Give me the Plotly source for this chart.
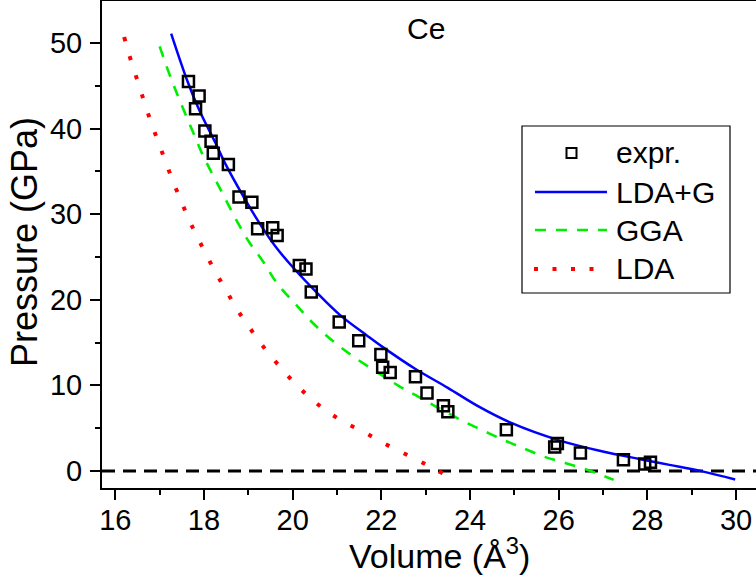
import plotly.graph_objects as go

# ---------------- data ----------------
expr_volume = [17.65, 17.89, 17.81, 18.02, 18.16, 18.21, 18.55, 18.79, 19.08, 19.21,
               19.55, 19.65, 20.15, 20.30, 20.42, 21.05, 21.49, 21.99, 22.03, 22.20,
               22.77, 23.03, 23.40, 23.50, 24.82, 25.91, 25.97, 26.49, 27.46, 27.94, 28.07]
expr_pressure = [45.5, 43.8, 42.3, 39.7, 38.5, 37.1, 35.8, 32.0, 31.4, 28.3,
                 28.4, 27.5, 24.0, 23.6, 20.9, 17.4, 15.2, 13.6, 12.1, 11.5,
                 11.0, 9.1, 7.6, 6.9, 4.8, 2.8, 3.2, 2.1, 1.3, 0.8, 1.0]

ldag_volume = [17.26, 17.63, 17.89, 18.26, 18.48, 18.93, 19.32, 19.63, 20.02, 20.55,
               21.07, 21.68, 22.05, 22.77, 23.50, 24.20, 24.93, 25.99, 26.97, 27.84,
               28.50, 29.19, 29.98]
ldag_pressure = [51.1, 45.5, 42.2, 38.3, 35.9, 31.7, 28.4, 26.1, 23.7, 20.8,
                 18.2, 15.8, 14.4, 11.9, 9.7, 7.5, 5.6, 3.6, 2.3, 1.37,
                 0.7, 0.0, -1.0]

gga_volume = [17.00, 17.21, 17.39, 17.58, 17.78, 17.99, 18.23, 18.47, 18.73, 19.01,
              19.34, 19.65, 20.06, 20.49, 20.95, 21.44, 21.93, 22.38, 22.86, 23.33,
              23.80, 24.28, 24.77, 25.22, 25.68, 26.16, 26.67, 27.24]
gga_pressure = [49.6, 46.5, 44.1, 41.7, 39.25, 36.7, 34.3, 31.9, 29.3, 26.8,
                24.4, 21.9, 19.5, 17.1, 15.0, 13.1, 11.45, 9.97, 8.6, 7.24,
                5.92, 4.75, 3.58, 2.6, 1.64, 0.9, 0.08, -1.05]

lda_volume = [16.20, 16.32, 16.45, 16.58, 16.71, 16.85, 17.00, 17.15, 17.31, 17.48,
              17.65, 17.84, 18.05, 18.26, 18.50, 18.74, 19.02, 19.31, 19.64, 20.00,
              20.38, 20.79, 21.20, 21.62, 22.01, 22.43, 22.84, 23.24, 23.65]
lda_pressure = [50.7, 48.5, 46.4, 44.3, 42.2, 40.1, 38.0, 35.9, 33.7, 31.6,
                29.5, 27.4, 25.3, 23.2, 21.1, 18.9, 16.8, 14.7, 12.6, 10.5,
                8.6, 6.9, 5.6, 4.5, 3.35, 2.25, 1.2, 0.1, -0.97]

legend_labels = ["expr.", "LDA+G", "GGA", "LDA"]
element_label = "Ce"
x_title = "Volume (Å<sup>3</sup>)"
y_title = "Pressure (GPa)"

# ---------------- layout helpers ----------------
W, H = 756, 583
ML, MR, MT, MB = 102, 0, 1, 95
PW, PH = W - ML - MR, H - MT - MB
FONT = "Arial, 'Liberation Sans', sans-serif"


def px(x):
    return (x - ML) / PW


def py(y):
    return (H - MB - y) / PH


BLUE, GREEN, RED = "#0000ff", "#00ee00", "#ff0000"
GGA_DASH = "11px,10px"
LDA_DASH = "4px,16px"

fig = go.Figure()
fig.add_trace(go.Scatter(x=lda_volume, y=lda_pressure, mode="lines", name=legend_labels[3],
                         line=dict(color=RED, width=4, dash=LDA_DASH, shape="spline")))
fig.add_trace(go.Scatter(x=gga_volume, y=gga_pressure, mode="lines", name=legend_labels[2],
                         line=dict(color=GREEN, width=2.6, dash=GGA_DASH, shape="spline")))
fig.add_trace(go.Scatter(x=ldag_volume, y=ldag_pressure, mode="lines", name=legend_labels[1],
                         line=dict(color=BLUE, width=2.5, shape="spline")))
fig.add_trace(go.Scatter(x=expr_volume, y=expr_pressure, mode="markers", name=legend_labels[0],
                         marker=dict(symbol="square-open", size=11, color="black",
                                     line=dict(color="black", width=2.5))))

shapes = []
# zero-pressure reference line
shapes.append(dict(type="line", xref="paper", yref="y", x0=0, x1=1, y0=0, y1=0,
                   line=dict(color="black", width=3, dash="13px,8px"), layer="below"))
# custom legend
shapes.append(dict(type="rect", xref="paper", yref="paper", x0=px(522), x1=px(730),
                   y0=py(293), y1=py(126), line=dict(color="black", width=1.2),
                   fillcolor="white"))
shapes.append(dict(type="rect", xref="paper", yref="paper", x0=px(566.5), x1=px(576.5),
                   y0=py(158), y1=py(148), line=dict(color="black", width=2)))
row_y = [153, 192, 230, 269]
shapes.append(dict(type="line", xref="paper", yref="paper", x0=px(535), x1=px(607),
                   y0=py(row_y[1]), y1=py(row_y[1]), line=dict(color=BLUE, width=2.5)))
shapes.append(dict(type="line", xref="paper", yref="paper", x0=px(535), x1=px(607),
                   y0=py(row_y[2]), y1=py(row_y[2]),
                   line=dict(color=GREEN, width=2.6, dash=GGA_DASH)))
shapes.append(dict(type="line", xref="paper", yref="paper", x0=px(534), x1=px(596),
                   y0=py(row_y[3]), y1=py(row_y[3]),
                   line=dict(color=RED, width=4, dash="4px,14.5px")))

annotations = []
for lab, yy in zip(legend_labels, row_y):
    annotations.append(dict(text=lab, xref="paper", yref="paper", x=px(614), y=py(yy),
                            xanchor="left", yanchor="middle", showarrow=False,
                            font=dict(family=FONT, size=30, color="black")))
annotations.append(dict(text=element_label, xref="x", yref="y", x=23.0, y=51.7,
                        xanchor="center", yanchor="middle", showarrow=False,
                        font=dict(family=FONT, size=30, color="black")))
annotations.append(dict(text=x_title, xref="paper", yref="paper", x=px(439), y=py(553),
                        xanchor="center", yanchor="middle", showarrow=False,
                        font=dict(family=FONT, size=34, color="black")))
annotations.append(dict(text=y_title, xref="paper", yref="paper", x=px(25), y=py(242),
                        xanchor="center", yanchor="middle", showarrow=False, textangle=-90,
                        font=dict(family=FONT, size=36, color="black")))

fig.update_layout(
    width=W, height=H, margin=dict(l=ML, r=MR, t=MT, b=MB),
    paper_bgcolor="white", plot_bgcolor="white", showlegend=False,
    font=dict(family=FONT, color="black"),
    shapes=shapes, annotations=annotations,
)
fig.update_xaxes(range=[15.7, 30.45], tickmode="linear", tick0=16, dtick=2,
                 ticks="outside", ticklen=10, tickwidth=2, tickcolor="black",
                 minor=dict(dtick=1, ticks="outside", ticklen=5, tickwidth=2, tickcolor="black"),
                 showline=True, linewidth=2, linecolor="black", mirror=True,
                 showgrid=False, zeroline=False, ticklabelstandoff=-5,
                 tickfont=dict(family=FONT, size=29, color="black"))
fig.update_yaxes(range=[-2.0, 54.9], tickmode="linear", tick0=0, dtick=10,
                 ticks="outside", ticklen=10, tickwidth=2, tickcolor="black",
                 minor=dict(dtick=5, ticks="outside", ticklen=5, tickwidth=2, tickcolor="black"),
                 showline=True, linewidth=2, linecolor="black", mirror=False,
                 showgrid=False, zeroline=False, ticklabelstandoff=2,
                 tickfont=dict(family=FONT, size=29, color="black"))

fig.write_html("out.html", config={"displayModeBar": False},
               post_script="document.body.style.margin='0';")
